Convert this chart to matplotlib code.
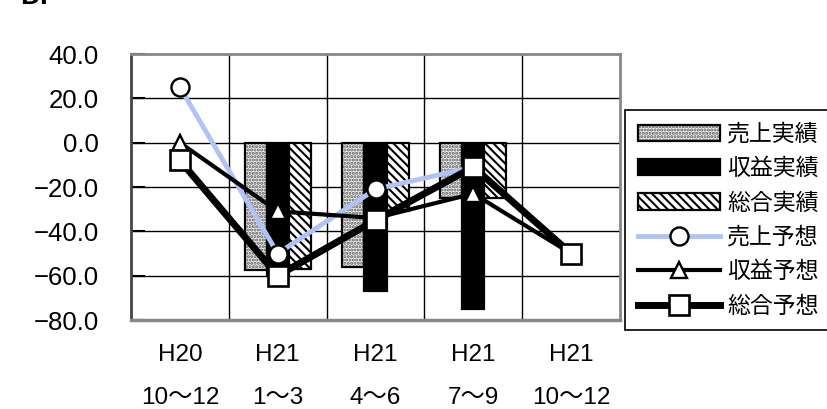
import numpy as np
import matplotlib
matplotlib.use("Agg")
import matplotlib.pyplot as plt
from matplotlib.transforms import blended_transform_factory

plt.rcParams['font.family'] = ['Liberation Sans', 'Noto Sans CJK JP']
plt.rcParams['hatch.linewidth'] = 1.5
plt.rcParams['axes.unicode_minus'] = True

# Periods (two-row labels)
period_year = ["H20", "H21", "H21", "H21", "H21"]
period_months = ["10〜12", "1〜3", "4〜6", "7〜9", "10〜12"]

# Actual results (bars); NaN = no result yet
sales_actual = [np.nan, -57.5, -56.0, -25.0, np.nan]
profit_actual = [np.nan, -60.0, -67.0, -75.0, np.nan]
total_actual = [np.nan, -57.0, -31.0, -25.0, np.nan]

# Forecasts (lines)
sales_forecast = [25.0, -50.0, -21.0, -11.0, -50.0]
profit_forecast = [0.0, -31.0, -34.0, -23.0, -50.0]
total_forecast = [-8.0, -60.0, -35.0, -11.0, -50.0]

labels = ["売上実績", "収益実績", "総合実績", "売上予想", "収益予想", "総合予想"]
yticks = [-80, -60, -40, -20, 0, 20, 40]

W, H = 827, 409
fig = plt.figure(figsize=(W / 100, H / 100), dpi=100)
ax = fig.add_axes([131 / W, (H - 320) / H, 489 / W, 266 / H])

x = np.arange(len(period_year))
bw = 0.225

# grid
for v in yticks[1:-1]:
    ax.axhline(v, color="black", lw=1.0, zorder=0.5)
for b in x[:-1] + 0.5:
    ax.axvline(b, color="black", lw=1.0, zorder=0.5)

# bars: texture layer + black outline layer
s_fill = ax.bar(x - bw, sales_actual, bw, color="#f0f0f0", hatch=".....",
                edgecolor="#5a5a5a", lw=0, zorder=2)
s_edge = ax.bar(x - bw, sales_actual, bw, fill=False, edgecolor="black",
                lw=1.6, zorder=2.1)
p_bar = ax.bar(x, profit_actual, bw, color="black", edgecolor="black",
               lw=1.6, zorder=2)
t_fill = ax.bar(x + bw, total_actual, bw, color="white", hatch="\\\\\\\\",
                edgecolor="black", lw=0, zorder=2)
t_edge = ax.bar(x + bw, total_actual, bw, fill=False, edgecolor="black",
                lw=1.6, zorder=2.1)

# forecast lines
l1, = ax.plot(x, sales_forecast, color="#b0c3f4", lw=3.5, marker="o",
              ms=13, mfc="white", mec="black", mew=1.7, zorder=3)
l2, = ax.plot(x, profit_forecast, color="black", lw=3.0, marker="^",
              ms=12, mfc="white", mec="black", mew=1.7, zorder=3.1)
l3, = ax.plot(x, total_forecast, color="black", lw=5.0, marker="s",
              ms=14, mfc="white", mec="black", mew=1.9, zorder=3.2)

ax.set_xlim(-0.5, len(x) - 0.5)
ax.set_ylim(-80, 40)
ax.set_yticks(yticks)
ax.set_yticklabels([f"{v:.1f}".replace("-", "\u2212") for v in yticks])
ax.tick_params(axis="y", direction="in", length=10, width=1.5, color="black",
               pad=23, labelsize=18.5)
ax.set_xticks([])

for side, sp in ax.spines.items():
    sp.set_color("#888888")
    sp.set_linewidth(2.0)
ax.spines["left"].set_color("#444444")
ax.spines["bottom"].set_linewidth(2.5)

# two-row period labels
tr = blended_transform_factory(ax.transData, fig.transFigure)
for xi, yr, mo in zip(x, period_year, period_months):
    ax.text(xi, 1 - 355 / H, yr, transform=tr, ha="center", va="center",
            fontsize=17.5)
    ax.text(xi, 1 - 398 / H, mo, transform=tr, ha="center", va="center",
            fontsize=17.5)

# legend
leg = fig.legend([(s_fill, s_edge), p_bar, (t_fill, t_edge), l1, l2, l3],
                 labels, loc="upper left",
                 bbox_to_anchor=(625 / W, 1 - 110 / H),
                 borderaxespad=0, frameon=True, fancybox=False,
                 edgecolor="black", framealpha=1,
                 prop={"family": ["Noto Sans CJK JP"], "size": 16.5},
                 handlelength=3.6, handleheight=0.7, handletextpad=0.3,
                 labelspacing=0.5, borderpad=0.55)
leg.get_frame().set_linewidth(1.2)

# heading fragment at top-left
fig.text(20 / W, 1 - 4 / H, "D.", fontsize=20, fontweight="bold",
         va="baseline", ha="left")

fig.savefig("out.png", dpi=100)
